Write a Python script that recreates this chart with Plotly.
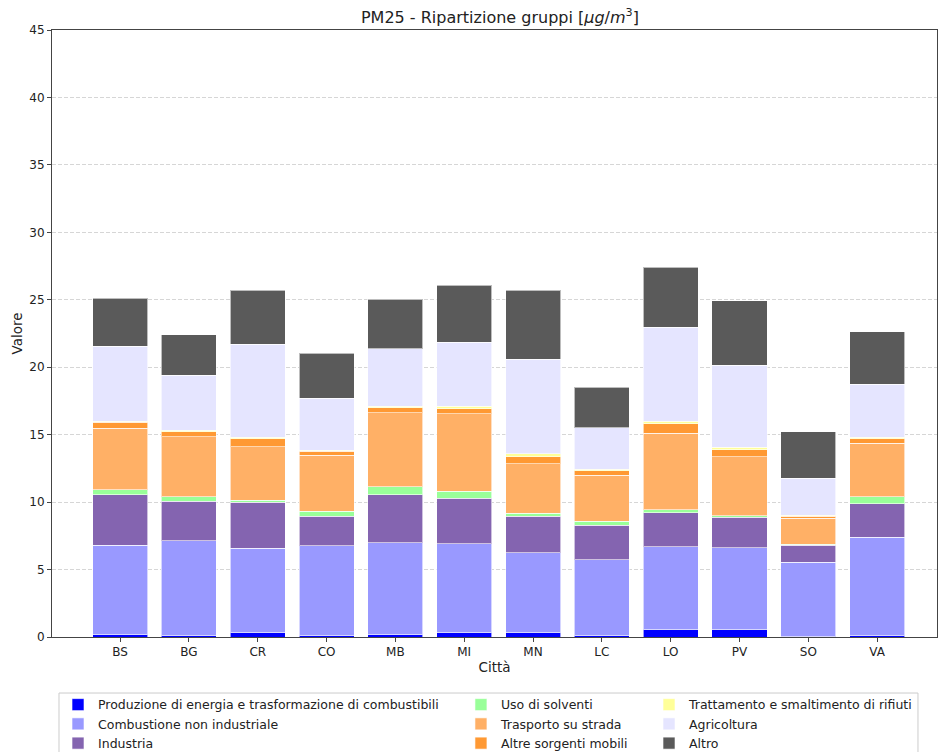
import plotly.graph_objects as go

cities = ["BS", "BG", "CR", "CO", "MB", "MI", "MN", "LC", "LO", "PV", "SO", "VA"]

produzione = [0.20, 0.13, 0.37, 0.10, 0.22, 0.35, 0.35, 0.10, 0.54, 0.59, 0.05, 0.13]
combustione = [6.62, 7.01, 6.20, 6.67, 6.77, 6.57, 5.90, 5.61, 6.16, 6.01, 5.48, 7.26]
industria = [3.71, 2.94, 3.41, 2.20, 3.56, 3.38, 2.72, 2.59, 2.52, 2.27, 1.26, 2.49]
solventi = [0.39, 0.32, 0.17, 0.37, 0.59, 0.52, 0.20, 0.30, 0.22, 0.12, 0.07, 0.52]
trasporto = [4.55, 4.45, 3.95, 4.13, 5.49, 5.74, 3.68, 3.40, 5.68, 4.38, 1.93, 3.95]
altre_mobili = [0.44, 0.35, 0.58, 0.29, 0.35, 0.37, 0.52, 0.31, 0.69, 0.52, 0.15, 0.35]
rifiuti = [0.09, 0.12, 0.14, 0.10, 0.14, 0.19, 0.20, 0.12, 0.18, 0.17, 0.07, 0.12]
agricoltura = [5.57, 4.10, 6.88, 3.83, 4.25, 4.75, 7.01, 3.09, 6.97, 6.10, 2.77, 3.93]
altro = [3.53, 2.97, 4.02, 3.34, 3.66, 4.22, 5.12, 2.99, 4.44, 4.77, 3.44, 3.88]

series = [
    ("Produzione di energia e trasformazione di combustibili", produzione, "#0000ff", "legend"),
    ("Combustione non industriale", combustione, "#9999ff", "legend"),
    ("Industria", industria, "#8464b0", "legend"),
    ("Uso di solventi", solventi, "#99ff99", "legend2"),
    ("Trasporto su strada", trasporto, "#ffb066", "legend2"),
    ("Altre sorgenti mobili", altre_mobili, "#ff9933", "legend2"),
    ("Trattamento e smaltimento di rifiuti", rifiuti, "#ffff99", "legend3"),
    ("Agricoltura", agricoltura, "#e5e5ff", "legend3"),
    ("Altro", altro, "#5a5a5a", "legend3"),
]

fig = go.Figure()
for name, vals, color, lg in series:
    fig.add_trace(go.Bar(
        x=cities, y=vals, name=name, legend=lg,
        marker=dict(color=color, line=dict(color="rgba(255,255,255,0.6)", width=1)),
        width=0.8,
    ))

font = "DejaVu Sans, Liberation Sans, sans-serif"
leg_common = dict(
    orientation="v", yanchor="top", xanchor="left", y=-0.0873,
    bgcolor="rgba(0,0,0,0)", borderwidth=0, traceorder="normal",
    font=dict(family=font, size=12.5, color="#222"), tracegroupgap=0,
)

fig.update_layout(
    width=938, height=752,
    margin=dict(l=52, r=1, t=30, b=115, autoexpand=False),
    barmode="stack", bargap=0.2,
    plot_bgcolor="white", paper_bgcolor="white",
    font=dict(family=font, color="#222"),
    title=dict(
        text="PM25 - Ripartizione gruppi [<i>μg</i>/<i>m</i><sup>3</sup>]",
        xref="container", yref="container",
        x=0.533, xanchor="center", y=0.977, yanchor="middle",
        font=dict(family=font, size=16, color="#222"),
    ),
    xaxis=dict(
        title=dict(text="Città", font=dict(size=13.5), standoff=4),
        range=[-0.99, 11.87], showline=True, mirror=True, linecolor="#444", linewidth=1,
        ticks="outside", ticklen=4, tickcolor="#444", tickfont=dict(size=12),
        showgrid=False,
    ),
    yaxis=dict(
        title=dict(text="Valore", font=dict(size=13.5), standoff=3),
        range=[0, 45], tickvals=[0, 5, 10, 15, 20, 25, 30, 35, 40, 45],
        showline=True, mirror=True, linecolor="#444", linewidth=1,
        ticks="outside", ticklen=4, tickcolor="#444", tickfont=dict(size=12),
        showgrid=True, gridcolor="rgba(180,180,180,0.55)", griddash="4px,2px", gridwidth=0.7,
        zeroline=False,
    ),
    legend=dict(x=0.0068, **leg_common),
    legend2=dict(x=0.4621, **leg_common),
    legend3=dict(x=0.6746, **leg_common),
    shapes=[dict(
        type="rect", xref="paper", yref="paper",
        x0=0.0079, x1=0.9785, y0=-0.21, y1=-0.0923,
        line=dict(color="#cccccc", width=1), fillcolor="rgba(0,0,0,0)", layer="below",
    )],
)

fig.write_html("out.html", config={"displayModeBar": False},
               post_script="document.body.style.margin='0';")
